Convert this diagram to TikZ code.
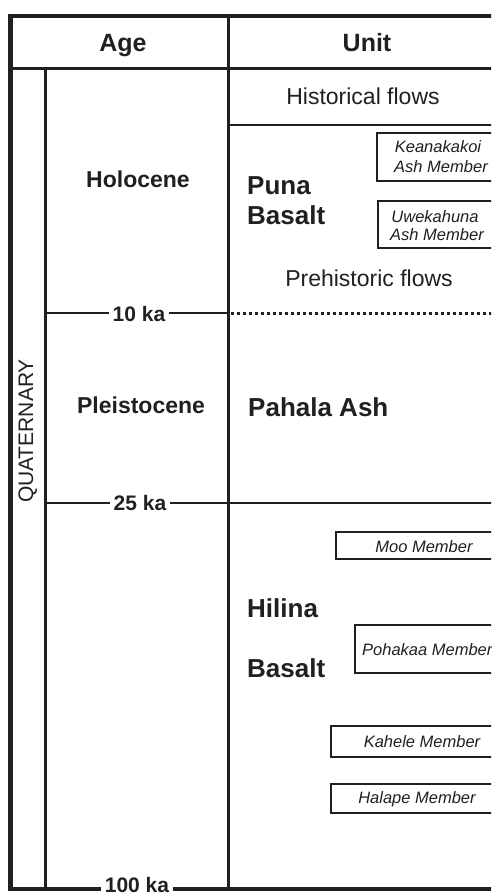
\documentclass[tikz,border=0pt]{standalone}
\usepackage{fontspec}
\setmainfont{Liberation Sans}
\definecolor{ink}{HTML}{231F20}
\tikzset{
  frame/.style={draw=ink, line width=4.5pt},
  rule/.style={draw=ink, line width=3pt},
  thinrule/.style={draw=ink, line width=2.6pt},
  dotrule/.style={draw=ink, line width=3pt, dash pattern=on 3pt off 3pt},
  memberbox/.style={draw=ink, line width=1.2pt},
  head/.style={font=\fontsize{25}{28}\selectfont\bfseries, anchor=base, inner sep=0pt, text=ink},
  plain/.style={font=\fontsize{23}{26}\selectfont, anchor=base, inner sep=0pt, text=ink},
  unitname/.style={font=\fontsize{26}{30}\selectfont\bfseries, anchor=base west, inner sep=0pt, text=ink},
  epoch/.style={font=\fontsize{23}{26}\selectfont\bfseries, anchor=base, inner sep=0pt, text=ink},
  agelabel/.style={font=\fontsize{21}{24}\selectfont\bfseries, anchor=base, fill=white, inner xsep=4pt, inner ysep=0pt, text=ink},
  membertext/.style={font=\fontsize{16.5}{19}\selectfont\itshape, anchor=base, inner sep=0pt, text=ink},
}
\begin{document}
\begin{tikzpicture}[x=1pt, y=-1pt]
\useasboundingbox (0,0) rectangle (491,896);
\clip (0,0) rectangle (491,896);
\fill[white] (0,0) rectangle (491,896);
% coordinates of the grid
\coordinate (tl) at (10.5,16);
\coordinate (tr) at (500,16);
\coordinate (bl) at (10.5,889);
\coordinate (br) at (500,889);
\coordinate (hl) at (10.5,69);
\coordinate (hr) at (500,69);
\coordinate (dt) at (228,16);
\coordinate (db) at (228,889);
\coordinate (qt) at (45,69);
\coordinate (qb) at (45,889);
\coordinate (hfl) at (228,125);
\coordinate (hfr) at (500,125);
\coordinate (tkl) at (45,313);
\coordinate (tkm) at (228,313);
\coordinate (tkm2) at (231,313);
\coordinate (tkr) at (500,313);
\coordinate (tfl) at (45,503);
\coordinate (tfr) at (500,503);
% member boxes
\draw[memberbox] (500,133) -- (377,133) -- (377,181) -- (500,181);
\draw[memberbox] (500,201) -- (378,201) -- (378,248) -- (500,248);
\draw[memberbox] (500,532) -- (336,532) -- (336,559) -- (500,559);
\draw[memberbox] (500,625) -- (355,625) -- (355,673) -- (500,673);
\draw[memberbox] (500,726) -- (331,726) -- (331,757) -- (500,757);
\draw[memberbox] (500,784) -- (331,784) -- (331,813) -- (500,813);
% rules
\draw[rule] (hl) -- (hr);
\draw[rule] (dt) -- (db);
\draw[rule] (qt) -- (qb);
\draw[thinrule] (hfl) -- (hfr);
\draw[thinrule] (tkl) -- (tkm);
\draw[dotrule] (tkm2) -- (tkr);
\draw[thinrule] (tfl) -- (tfr);
\draw[frame] (tr) -- (tl) -- (bl) -- (br);
% header
\node[head] (age) at (123,52) {Age};
\node[head] (unit) at (367,52) {Unit};
% epochs
\node[epoch] (holo) at (138,187) {Holocene};
\node[epoch] (pleis) at (141,413) {Pleistocene};
\node[font=\fontsize{21}{24}\selectfont, anchor=base, inner sep=0pt, text=ink, rotate=90] (quat) at (33,431) {QUATERNARY};
% age labels
\node[agelabel] (ka10) at (139,321) {10 ka};
\node[agelabel] (ka25) at (140,510) {25 ka};
\node[agelabel] (ka100) at (137,892.5) {100 ka};
% units
\node[plain] (hist) at (363,105) {Historical flows};
\node[plain] (prehist) at (369,286) {Prehistoric flows};
\node[unitname] (puna) at (247,194) {Puna};
\node[unitname] (punab) at (247,224) {Basalt};
\node[unitname] (pahala) at (248,416) {Pahala Ash};
\node[unitname] (hilina) at (247,617) {Hilina};
\node[unitname] (hilinab) at (247,677) {Basalt};
% members
\node[membertext] (kea1) at (438,153) {Keanakakoi};
\node[membertext] (kea2) at (441,172) {Ash Member};
\node[membertext] (uwe1) at (435,222) {Uwekahuna};
\node[membertext] (uwe2) at (437,240) {Ash Member};
\node[membertext] (moo) at (424,552) {Moo Member};
\node[membertext, anchor=base west] (poh) at (362,655) {Pohakaa Member};
\node[membertext] (kah) at (422,747) {Kahele Member};
\node[membertext] (hal) at (417,803) {Halape Member};
\end{tikzpicture}
\end{document}
